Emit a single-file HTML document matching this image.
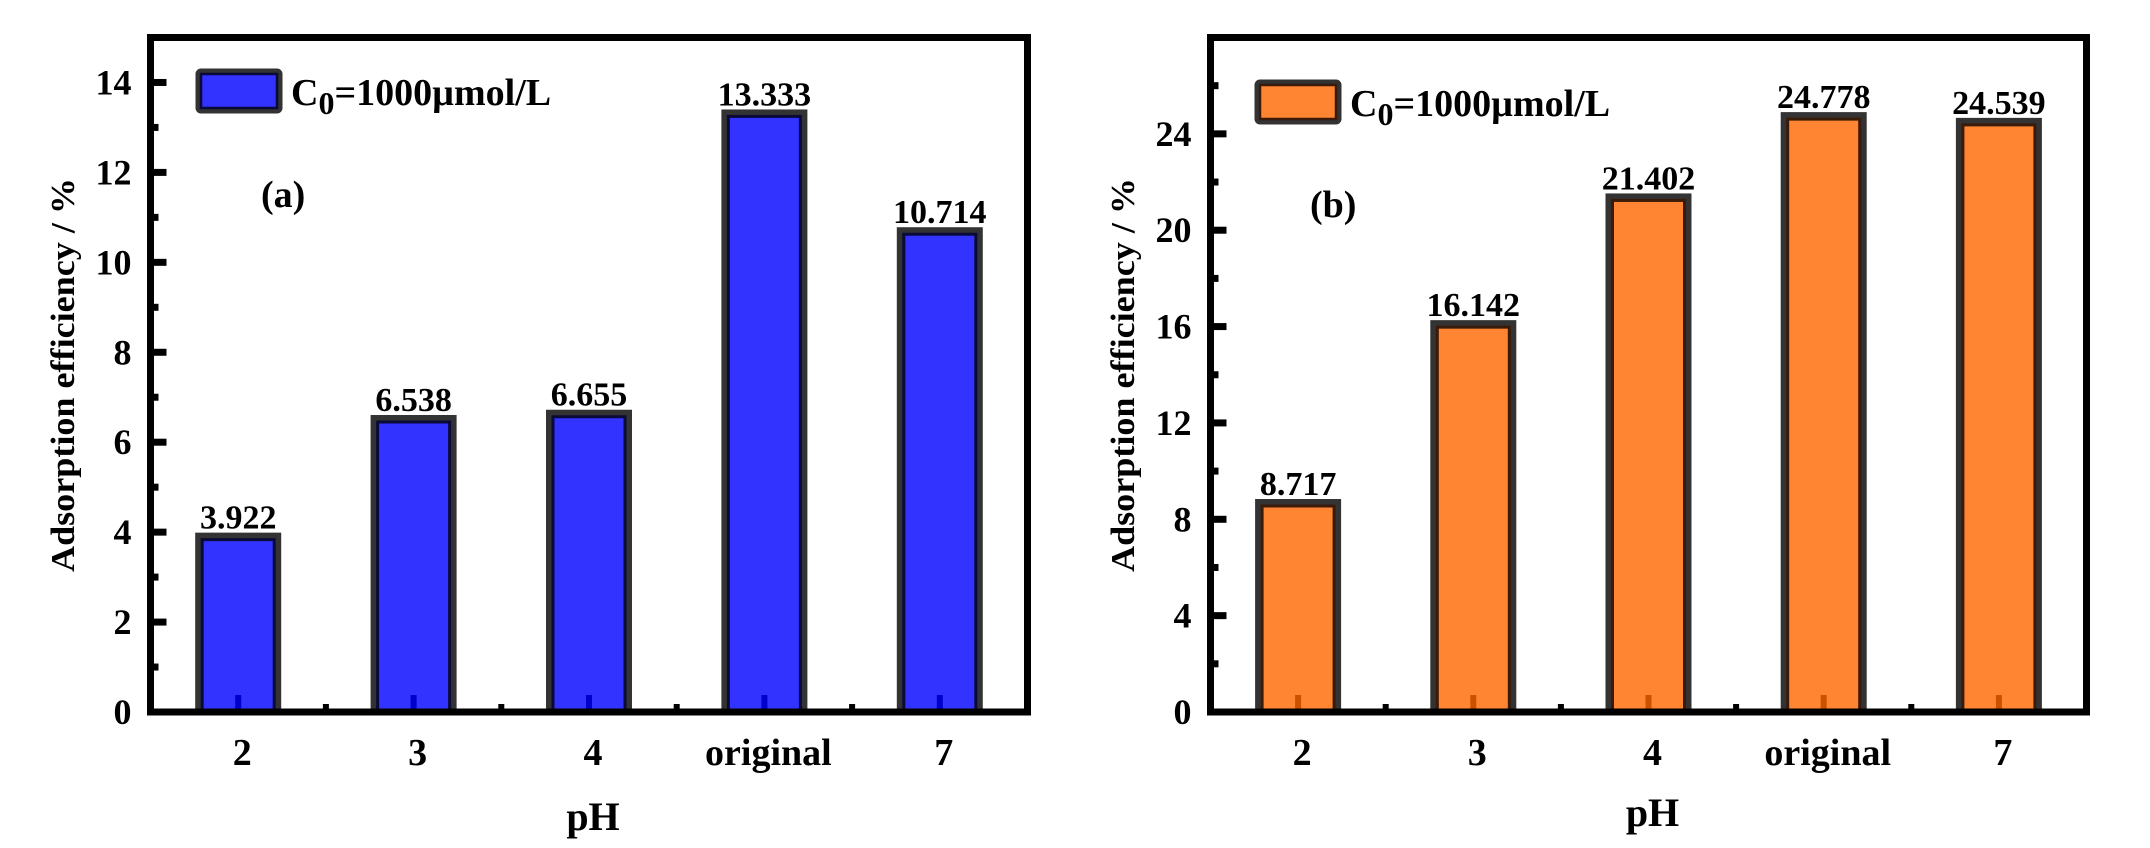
<!DOCTYPE html>
<html><head><meta charset="utf-8"><style>
html,body{margin:0;padding:0;background:#fff;}
svg, svg text{font-family:"Liberation Serif","DejaVu Serif",serif;font-weight:bold;}
</style></head><body>
<svg id="chart" width="2150" height="843" viewBox="0 0 2150 843" xmlns="http://www.w3.org/2000/svg" font-family="Liberation Serif, DejaVu Serif, serif" font-weight="bold"></svg>
<script>
const categories = ["2","3","4","original","7"];
const valuesA = [3.922, 6.538, 6.655, 13.333, 10.714];
const valuesB = [8.717, 16.142, 21.402, 24.778, 24.539];
const labelsA = ["3.922","6.538","6.655","13.333","10.714"];
const labelsB = ["8.717","16.142","21.402","24.778","24.539"];
const ticksA = [0,2,4,6,8,10,12,14];
const ticksB = [0,4,8,12,16,20,24];

const NS = "http://www.w3.org/2000/svg";
const svg = document.getElementById("chart");
function mk(tag, attrs, parent, text){
  const e = document.createElementNS(NS, tag);
  for (const k in attrs) e.setAttribute(k, attrs[k]);
  if (text !== undefined) e.textContent = text;
  (parent||svg).appendChild(e);
  return e;
}
const FF = "Liberation Serif, DejaVu Serif, serif";

function panel(cfg){
  const g = mk("g", {});
  
  
  const L = cfg.left, R = cfg.right, T = 37.5, B = 712;
  const ymax = cfg.ymax;
  const y = v => B - v/ymax*(B-T);
  const step = (R-L)/categories.length;
  const x = i => L + (i+0.5)*step;

  const barW = 80;
  cfg.values.forEach((v,i)=>{
    const bg = mk("g", {}, g);
    
    
    const cx = x(i), top = y(v);
    mk("rect", {x: cx-barW/2, y: top, width: barW, height: B-top, fill: cfg.fill, stroke: "#333", "stroke-width": 6}, bg);
    mk("rect", {x: cx-barW/2+4, y: top+4, width: barW-8, height: B-top-4, fill: "none", stroke: cfg.inner, "stroke-width": 3}, bg);
    mk("rect", {x: cx-3, y: B-17, width: 6, height: 17, fill: cfg.tick}, bg);
    const lb = mk("text", {x: cx, y: top-7, "text-anchor": "middle", "font-size": 34, "font-family": FF, fill: "#000"}, g, cfg.labels[i]);
    
    
    const xl = mk("text", {x: cx + 4, y: 765, "text-anchor": "middle", "font-size": 38, "font-family": FF, fill: "#000"}, g, categories[i]);
    
    
  });
  for (let i=1;i<categories.length;i++){
    mk("rect", {x: L+i*step-3, y: B-8, width: 6, height: 8, fill: "#000"}, g);
  }
  const majors = cfg.ticks;
  const d = majors[1]-majors[0];
  for (let v=0; v<ymax; v+=d/2){
    const isMajor = Math.abs((v/d)-Math.round(v/d))<1e-9;
    mk("rect", {x: L, y: y(v)-3.5, width: isMajor?16:8, height: 7, fill: "#000"}, g);
  }
  majors.forEach(v=>{
    const t = mk("text", {x: L-19, y: y(v)+12, "text-anchor": "end", "font-size": 36, "font-family": FF, fill: "#000"}, g, String(v));
    
    
  });
  const fr = mk("rect", {x: L, y: T, width: R-L, height: B-T, fill: "none", stroke: "#000", "stroke-width": 7}, g);
  
  
  const lg = mk("g", {}, g);
  
  
  mk("rect", {x: cfg.legX+2, y: cfg.legY+2, width: 82, height: 40, rx: 3, fill: cfg.fill, stroke: "#333", "stroke-width": 5}, lg);
  mk("rect", {x: cfg.legX+5, y: cfg.legY+5, width: 76, height: 34, fill: "none", stroke: cfg.inner, "stroke-width": 2.5}, lg);
  const lt = mk("text", {x: cfg.legX+95, y: cfg.legY+36, "font-size": 38, "font-family": FF, fill: "#000"}, lg);
  lt.appendChild(document.createTextNode("C"));
  mk("tspan", {"font-size": 32, dy: 9}, lt, "0");
  mk("tspan", {dy: -9}, lt, "=1000\u00b5mol/L");
  const pt = mk("text", {x: cfg.tagX, y: cfg.tagY, "font-size": 38, "font-family": FF, fill: "#000"}, g, cfg.tag);
  
  
  const xt = mk("text", {x: (L+R)/2 + 4, y: cfg.xtY, "text-anchor": "middle", "font-size": 40, "font-family": FF, fill: "#000"}, g, "pH");
  
  
  const yt = mk("text", {x: 0, y: 0, "text-anchor": "middle", "font-size": 34, "font-family": FF, fill: "#000", textLength: 394, lengthAdjust: "spacingAndGlyphs", transform: `translate(${cfg.ytX},375) rotate(-90)`}, g, "Adsorption efficiency / %");
  
  
}

panel({name: "chart-a", key: "a", left: 150.5, right: 1027.5, ymax: 15, values: valuesA, labels: labelsA, ticks: ticksA,
  fill: "#3333ff", inner: "#0a0a38", tick: "#0000cc", legX: 196, legY: 69, tagX: 261, tagY: 207, xtY: 830, ytX: 74, tag: "(a)"});
panel({name: "chart-b", key: "b", left: 1210.5, right: 2086.5, ymax: 28, values: valuesB, labels: labelsB, ticks: ticksB,
  fill: "#ff8533", inner: "#3a1a08", tick: "#cc5000", legX: 1255, legY: 80, tagX: 1310, tagY: 217, xtY: 826, ytX: 1134, tag: "(b)"});
</script>
</body></html>
